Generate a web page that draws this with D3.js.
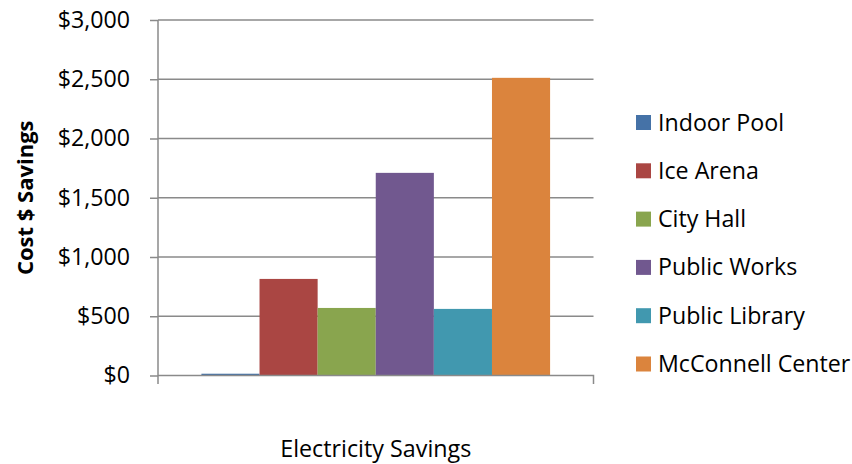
<!DOCTYPE html>
<html><head><meta charset="utf-8">
<script src="https://cdn.jsdelivr.net/npm/d3@7"></script>
<style>
html,body{margin:0;padding:0;background:#fff;}
svg{display:block;font-family:"Open Sans",Lato,sans-serif;}
</style></head>
<body>
<svg id="chart" width="852" height="464"></svg>
<script>
const categories = ["Electricity Savings"];
const seriesNames = ["Indoor Pool","Ice Arena","City Hall","Public Works","Public Library","McConnell Center"];
const seriesValues = [15, 815, 570, 1710, 562, 2512];
const seriesColors = ["#4572A7","#AA4643","#89A54E","#71588F","#4198AF","#DB843D"];
const yTicks = [0,500,1000,1500,2000,2500,3000];

(function(){
const svg = d3.select("#chart");
const pLeft = 158, pRight = 593.5, pTop = 20, pBottom = 375.5;
const gridColor = "#8a8a8a";
const font = "'Open Sans', sans-serif";

const y = d3.scaleLinear().domain([0,3000]).range([pBottom, pTop]);
const x0 = d3.scaleBand().domain(categories).range([pLeft, pRight]).paddingOuter(0.1245).paddingInner(0);
const x1 = d3.scaleBand().domain(seriesNames).range([0, x0.bandwidth()]).padding(0);

// gridlines
svg.append("g").selectAll("line").data(yTicks.filter(d=>d>0)).join("line")
  .attr("x1", pLeft).attr("x2", pRight)
  .attr("y1", d=>y(d)).attr("y2", d=>y(d))
  .attr("stroke", gridColor).attr("stroke-width", 1.5);

// bars
const g = svg.append("g").selectAll("g").data(categories).join("g")
  .attr("transform", d=>`translate(${x0(d)},0)`);
g.selectAll("rect").data(seriesNames.map((n,i)=>({n, v:seriesValues[i], c:seriesColors[i]}))).join("rect")
  .attr("x", d=>x1(d.n)).attr("width", x1.bandwidth())
  .attr("y", d=>y(d.v)).attr("height", d=>pBottom - y(d.v))
  .attr("fill", d=>d.c);

// y axis
const yAxis = d3.axisLeft(y).tickValues(yTicks).tickSize(8).tickPadding(20)
  .tickFormat(d=>"$" + d3.format(",")(d));
const ya = svg.append("g").attr("transform", `translate(${pLeft},0)`).call(yAxis);
ya.select(".domain").attr("stroke", gridColor).attr("stroke-width", 1.5)
  .attr("d", `M0,${pTop}V${pBottom+8.5}`);
ya.selectAll(".tick line").attr("stroke", gridColor).attr("stroke-width", 1.5);
ya.selectAll(".tick text").attr("font-size", 23.2).attr("fill", "#000")
  .attr("font-family", font);

// x axis
const xAxis = d3.axisBottom(x0).tickSize(0).tickFormat("");
const xa = svg.append("g").attr("transform", `translate(0,${pBottom})`).call(xAxis);
xa.select(".domain").attr("stroke", gridColor).attr("stroke-width", 1.5)
  .attr("d", `M${pLeft},0H${pRight}V8.5`);
xa.selectAll(".tick").remove();

// axis titles
svg.append("text").attr("x", x0(categories[0]) + x0.bandwidth()/2).attr("y", 457)
  .attr("text-anchor","middle").attr("font-size", 23.3).attr("fill","#000")
  .text(categories[0]);
svg.append("text").attr("transform", `translate(33,${(pTop+pBottom)/2}) rotate(-90)`)
  .attr("text-anchor","middle").attr("font-size", 22).attr("font-weight","bold").attr("fill","#000")
  .text("Cost $ Savings");

// legend
const leg = svg.append("g").attr("transform","translate(636,115)");
const items = leg.selectAll("g").data(seriesNames).join("g")
  .attr("transform", (d,i)=>`translate(0,${i*48.3})`);
items.append("rect").attr("width", 15).attr("height", 15).attr("fill", (d,i)=>seriesColors[i]);
items.append("text").attr("x", 22).attr("y", 15.5).attr("font-size", 23.2).attr("fill","#000").text(d=>d);
})();
</script>
</body></html>
